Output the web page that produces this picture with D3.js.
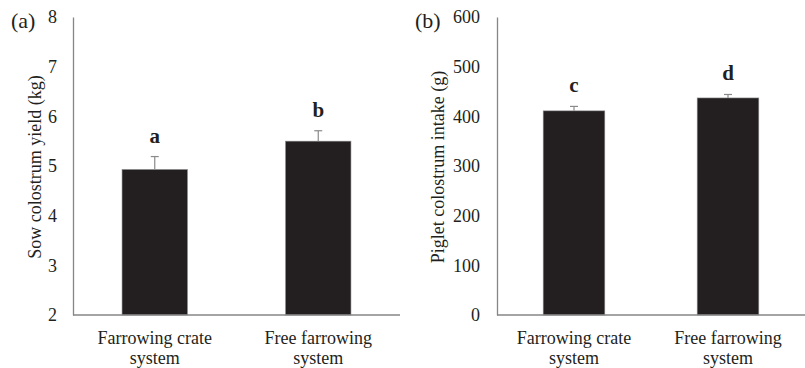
<!DOCTYPE html>
<html><head><meta charset="utf-8">
<script src="https://cdn.jsdelivr.net/npm/d3@7"></script>
<style>body{margin:0;background:#fff}svg{display:block}svg text{font-family:"Liberation Serif","DejaVu Serif",serif !important;fill:#231f20}</style>
</head><body>
<script>
const categories = [["Farrowing crate","system"],["Free farrowing","system"]];
const yieldValues = [4.93, 5.50];
const yieldErrors = [0.26, 0.21];
const yieldLetters = ["a","b"];
const yieldTicks = [2,3,4,5,6,7,8];
const intakeValues = [411, 437];
const intakeErrors = [9, 7];
const intakeLetters = ["c","d"];
const intakeTicks = [0,100,200,300,400,500,600];

const svg = d3.select("body").append("svg").attr("width",805).attr("height",368);

function panel(o){
  const g = svg.append("g");
  const x = d3.scaleBand().domain([0,1]).range([o.x0,o.x1]).paddingInner(0.6).paddingOuter(0.3);
  const y = d3.scaleLinear().domain(o.domain).range([315,17]);
  const ya = g.append("g").attr("transform",`translate(${o.x0},0)`)
    .call(d3.axisLeft(y).tickValues(o.ticks).tickFormat(d3.format("d")).tickSize(0).tickPadding(o.pad));
  ya.attr("font-family",null).attr("font-size",null);
  ya.select(".domain").attr("stroke","#868686").attr("stroke-width",1.3);
  ya.selectAll("text").style("font-size","18px").attr("fill","#231f20");
  g.selectAll("rect.bar").data(o.values).join("rect")
    .attr("x",(d,i)=>x(i)).attr("width",x.bandwidth())
    .attr("y",d=>y(d)).attr("height",d=>315-y(d))
    .attr("fill","#231f20").attr("stroke","#8a8a8a").attr("stroke-width",0.6);
  o.values.forEach((v,i)=>{
    const cx = x(i)+x.bandwidth()/2;
    g.append("line").attr("x1",cx).attr("x2",cx).attr("y1",y(v)).attr("y2",y(v+o.errors[i])).attr("stroke","#8a8a8a").attr("stroke-width",1.2);
    g.append("line").attr("x1",cx-4).attr("x2",cx+4).attr("y1",y(v+o.errors[i])).attr("y2",y(v+o.errors[i])).attr("stroke","#8a8a8a").attr("stroke-width",1.2);
    g.append("text").attr("x",cx).attr("y",y(v+o.errors[i])-14).attr("text-anchor","middle")
      .style("font-size","21px").style("font-weight","bold").text(o.letters[i]);
    const t = g.append("text").attr("x",cx).attr("y",344).attr("text-anchor","middle").style("font-size","18px");
    t.append("tspan").attr("x",cx).text(categories[i][0]);
    t.append("tspan").attr("x",cx).attr("dy",20).text(categories[i][1]);
  });
  g.append("line").attr("x1",o.x0).attr("x2",o.x1).attr("y1",315).attr("y2",315).attr("stroke","#868686").attr("stroke-width",1.3);
  g.append("text").attr("transform",`translate(${o.tx},167) rotate(-90)`).attr("text-anchor","middle").style("font-size","18px").text(o.title);
  g.append("text").attr("x",o.lx).attr("y",28).style("font-size","22px").text(o.label);
}

panel({x0:73,x1:400,domain:[2,8],ticks:yieldTicks,values:yieldValues,errors:yieldErrors,letters:yieldLetters,
  title:"Sow colostrum yield (kg)",tx:41,label:"(a)",lx:11,pad:16});
panel({x0:497,x1:805,domain:[0,600],ticks:intakeTicks,values:intakeValues,errors:intakeErrors,letters:intakeLetters,
  title:"Piglet colostrum intake (g)",tx:444,label:"(b)",lx:415,pad:17});
</script>
</body></html>
